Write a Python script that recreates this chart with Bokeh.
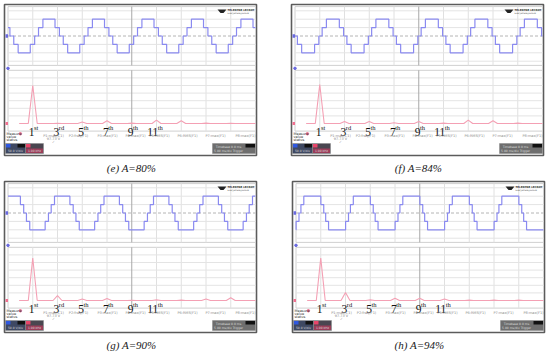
from bokeh.plotting import figure
from bokeh.models import Range1d
from bokeh.core.properties import value
from bokeh.embed import file_html
from bokeh.resources import INLINE

# ---------------- data ----------------
captions = ["(e) A=80%", "(f) A=84%", "(g) A=90%", "(h) A=94%"]
# switching angles of the 5-level staircase (degrees within a quarter wave)
theta1_deg = [14, 12, 10, 7]
theta2_deg = [46, 43, 34, 28]
# time position (divisions) of the first positive plateau centre
plateau_center_div = [1.655, 1.53, 0.19, 0.66]
period_div = [2.0, 2.0, 2.0, 2.0]
step_levels = [1, 2, 1, 0, -1, -2, -1, 0]      # staircase levels (divisions)

# FFT magnitudes (divisions) at odd harmonics
harmonic_orders = [1, 3, 5, 7, 9, 11, 13, 15, 17]
harmonics_e = [5.0, 0.03, 0.2, 0.35, 0.05, 0.45, 0.35, 0.05, 0.03]
harmonics_f = [5.13, 0.25, 0.25, 0.1, 0.25, 0.05, 0.45, 0.35, 0.05]
harmonics_g = [5.6, 0.65, 0.2, 0.25, 0.03, 0.08, 0.05, 0.2, 0.35]
harmonics_h = [5.6, 1.05, 0.08, 0.3, 0.3, 0.2, 0.05, 0.05, 0.05]
harmonics_all = [harmonics_e, harmonics_f, harmonics_g, harmonics_h]

label_orders = ["1", "3", "5", "7", "9", "11"]
label_suffix = ["st", "rd", "th", "th", "th", "th"]

measure_names = ["P1:max(C1)", "P2:freq(F1)", "P3:max(F1)", "P4:max(F1)",
                 "P5:RMS(F1)", "P6:RMS(F1)", "P7:max(F1)", "P8:max(F1)"]

# ---------------- layout (reference pixel space) ----------------
W, H = 550, 353
X0, X1 = 0, 550
Y0, Y1 = 0, 353
origins = [(4, 4), (291, 4), (4, 181), (292, 181)]
PW, PH = 252, 151
GL = 3.5        # grid left inside panel
DIV = 24.75     # px per time division
WC = 31.5       # waveform centre line
WU = 8.4        # px per waveform division
SB = 119        # spectrum baseline
SU = 7.6        # px per spectrum division
HW = 0.18       # half width of an FFT peak (div)

p = figure(width=W, height=H, x_range=Range1d(X0, X1), y_range=Range1d(Y1, Y0),
           output_backend="svg", toolbar_location=None, min_border=0)
p.axis.visible = False
p.grid.visible = False
p.outline_line_color = None
p.background_fill_color = "white"

xr_d, yr_d = {}, {}
for i, (ox, oy) in enumerate(origins):
    gl = ox + GL
    xr_d[f"x{i}"] = Range1d((X0 - gl) / DIV, (X1 - gl) / DIV)
    cy = oy + WC
    yr_d[f"w{i}"] = Range1d((cy - Y1) / WU, (cy - Y0) / WU)
    by = oy + SB
    yr_d[f"s{i}"] = Range1d((by - Y1) / SU, (by - Y0) / SU)
p.extra_x_ranges = xr_d
p.extra_y_ranges = yr_d


def staircase(c, th1, th2, per):
    half = per / 2
    t1, t2 = th1 / 180.0 * half, th2 / 180.0 * half
    offs = [t1, t2, half - t2, half - t1, half + t1, half + t2, per - t2, per - t1]
    edges = []
    for k in range(-3, 9):
        r = c - half / 2 + per * k
        for dt, L in zip(offs, step_levels):
            edges.append((r + dt, L))
    edges.sort()
    lvl = [L for t, L in edges if t <= 0][-1]
    xs, ys = [0.0], [lvl]
    for t, L in edges:
        if 0 < t < 10:
            xs += [t, t]
            ys += [lvl, L]
            lvl = L
    xs.append(10.0)
    ys.append(lvl)
    return xs, ys


for i, (ox, oy) in enumerate(origins):
    xr, wr, sr = f"x{i}", f"w{i}", f"s{i}"
    # screenshot frame
    p.quad(left=[ox], right=[ox + PW], top=[oy], bottom=[oy + PH],
           fill_color="white", line_color="#5c5c5c", line_width=1.6)
    # panes
    p.quad(left=[0], right=[10], bottom=[-3.5], top=[3.5], fill_color=None,
           line_color="#d0d0d0", line_width=1, x_range_name=xr, y_range_name=wr)
    p.quad(left=[0], right=[10], bottom=[-1], top=[7], fill_color=None,
           line_color="#d0d0d0", line_width=1, x_range_name=xr, y_range_name=sr)
    # grid lines
    vx = [k for k in range(1, 10) if k != 5]
    p.segment(x0=vx, x1=vx, y0=[-3.5] * len(vx), y1=[3.5] * len(vx), line_color="#e0e0e0",
              line_width=1, x_range_name=xr, y_range_name=wr)
    p.segment(x0=vx, x1=vx, y0=[-1] * len(vx), y1=[7] * len(vx), line_color="#e0e0e0",
              line_width=1, x_range_name=xr, y_range_name=sr)
    hy = [-3, -2, -1, 1, 2, 3]
    p.segment(x0=[0] * 6, x1=[10] * 6, y0=hy, y1=hy, line_color="#e4e4e4", line_width=1,
              x_range_name=xr, y_range_name=wr)
    sy = [1, 2, 3, 4, 5, 6]
    p.segment(x0=[0] * 6, x1=[10] * 6, y0=sy, y1=sy, line_color="#e4e4e4", line_width=1,
              x_range_name=xr, y_range_name=sr)
    p.segment(x0=[5], x1=[5], y0=[-3.5], y1=[3.5], line_color="#a8a8a8", line_width=1,
              x_range_name=xr, y_range_name=wr)
    p.segment(x0=[5], x1=[5], y0=[-1], y1=[7], line_color="#a8a8a8", line_width=1,
              x_range_name=xr, y_range_name=sr)
    p.segment(x0=[0], x1=[10], y0=[0], y1=[0], line_color="#b4b4b4", line_width=1,
              line_dash="3 2", x_range_name=xr, y_range_name=wr)
    # channel markers
    p.quad(left=[-0.1], right=[0.0], bottom=[-0.2], top=[0.2], fill_color="#6a6ae0",
           line_color=None, x_range_name=xr, y_range_name=wr)
    p.scatter(x=[0.0], y=[-3.85], size=2.5, color="#6a6ae0", x_range_name=xr, y_range_name=wr)
    p.quad(left=[-0.1], right=[0.0], bottom=[-0.2], top=[0.2], fill_color="#f07090",
           line_color=None, x_range_name=xr, y_range_name=sr)
    p.scatter(x=[0.5], y=[-1.35], size=2.5, color="#f07090", x_range_name=xr, y_range_name=sr)

    # waveform
    wx, wy = staircase(plateau_center_div[i], theta1_deg[i], theta2_deg[i], period_div[i])
    p.line(wx, wy, line_color="#8a8af0", line_width=1.2, x_range_name=xr, y_range_name=wr)

    # spectrum
    sx, syv = [0.45], [0.0]
    for n, m in zip(harmonic_orders, harmonics_all[i]):
        pos = (n + 1) / 2
        sx += [pos - HW, pos, pos + HW]
        syv += [0.0, m, 0.0]
    sx.append(10.0)
    syv.append(0.0)
    p.line(sx, syv, line_color="#f4a0b4", line_width=1.1, x_range_name=xr, y_range_name=sr)

    # harmonic labels
    lpos = [(int(n) + 1) / 2 for n in label_orders]
    p.text(x=[q + 0.07 for q in lpos], y=[-1.1] * 6, text=label_orders,
           text_font=value("Liberation Serif"), text_font_size="11.5px", text_align="right",
           text_baseline="alphabetic", text_color="#111111", x_range_name=xr, y_range_name=sr)
    p.text(x=[q + 0.05 for q in lpos], y=[-0.5] * 6, text=label_suffix,
           text_font=value("Liberation Serif"), text_font_size="6.5px", text_align="left",
           text_baseline="alphabetic", text_color="#111111", x_range_name=xr, y_range_name=sr)

    # measurement row
    mx = [49, 74, 103, 131, 155, 183, 211, 241]
    p.text(x=[ox + v for v in mx], y=[oy + 131] * 8, text=measure_names,
           text_font=value("DejaVu Sans"), text_font_size="3.5px", text_align="center",
           text_baseline="middle", text_color="#8a8a8a")
    p.text(x=[ox + 49, ox + 49], y=[oy + 134, oy + 137.5], text=["97.73 V", "\u2713"],
           text_font=value("DejaVu Sans"), text_font_size="3.5px", text_align="center",
           text_baseline="middle", text_color="#8a8a8a")
    p.text(x=[ox + 2] * 3, y=[oy + 129.5, oy + 132.5, oy + 135.5],
           text=["Measure", "value", "status"], text_font=value("DejaVu Sans"),
           text_font_size="3.5px", text_align="left", text_baseline="middle",
           text_color="#333333")

    # bottom status boxes
    p.quad(left=[ox + 1, ox + 21, ox + 208], right=[ox + 21, ox + 39, ox + 251],
           top=[oy + 139] * 3, bottom=[oy + 149] * 3,
           fill_color=["#3e4862", "#4a4650", "#6e6e6e"], line_color="#888888", line_width=0.5)
    p.quad(left=[ox + 1.5, ox + 21.5, ox + 13, ox + 241], right=[ox + 6, ox + 26, ox + 20.5, ox + 250.5],
           top=[oy + 139.5] * 4, bottom=[oy + 143] * 4,
           fill_color=["#2f58e0", "#e8456a", "#111111", "#111111"], line_color=None)
    p.quad(left=[ox + 21.5], right=[ox + 38.5], top=[oy + 144], bottom=[oy + 148.5],
           fill_color="#9a3c58", line_color=None)
    p.text(x=[ox + 11, ox + 30, ox + 224, ox + 224], y=[oy + 146.5, oy + 146.5, oy + 142, oy + 146.5],
           text=["50.0 V/div", "1.00 kHz", "Timebase 0.0 ms", "5.00 ms/div Trigger"],
           text_font=value("DejaVu Sans"), text_font_size="3px", text_align="center",
           text_baseline="middle", text_color="#dddddd")

    # logo
    p.patch(x=[ox + 213, ox + 222, ox + 219, ox + 216], y=[oy + 5, oy + 5, oy + 8.5, oy + 8.5],
            fill_color="#222222", line_color=None)
    p.text(x=[ox + 223], y=[oy + 6], text=["TELEDYNE LECROY"], text_font=value("DejaVu Sans"),
           text_font_size="2.6px", text_font_style="bold", text_baseline="middle",
           text_color="#333333")
    p.text(x=[ox + 223], y=[oy + 9], text=["Everywhereyoulook"], text_font=value("DejaVu Sans"),
           text_font_size="2.2px", text_baseline="middle", text_color="#555555")

    # caption
    p.text(x=[ox + 127], y=[oy + 163], text=[captions[i]], text_font=value("Liberation Serif"),
           text_font_size="11px", text_font_style="italic", text_align="center",
           text_baseline="middle", text_color="#1a1a1a")

open("out.html", "w").write(file_html(p, INLINE))
